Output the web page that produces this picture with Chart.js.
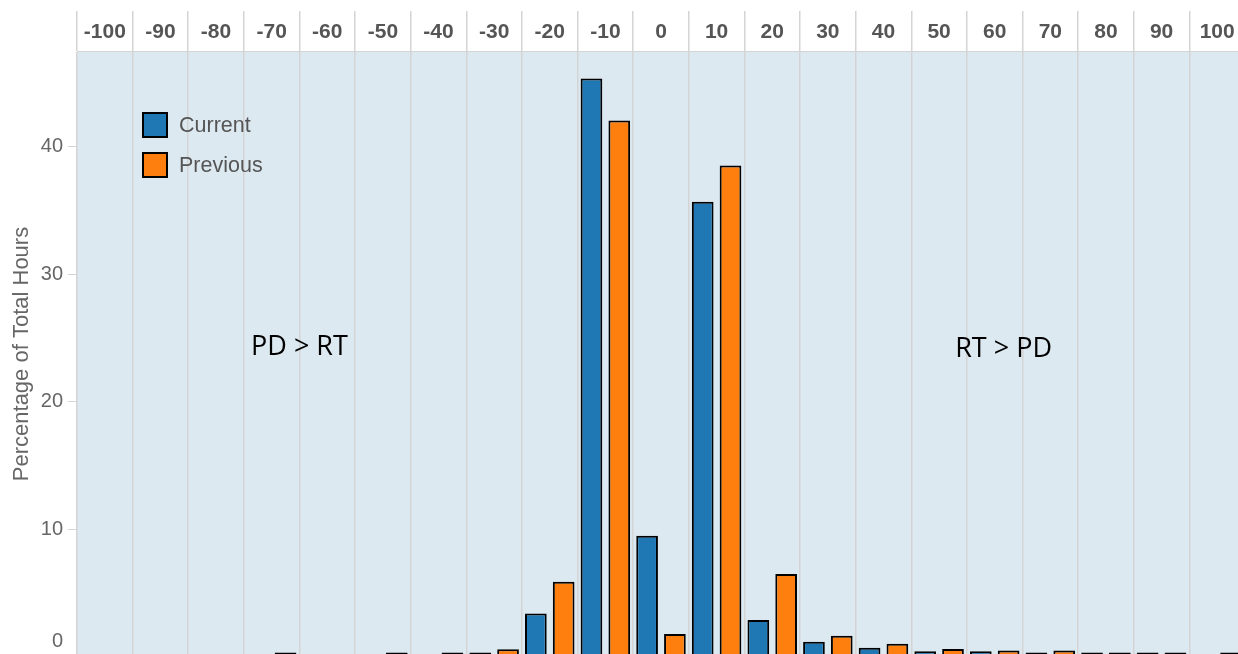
<!DOCTYPE html>
<html>
<head>
<meta charset="utf-8">
<script src="https://cdn.jsdelivr.net/npm/chart.js@4.4.1/dist/chart.umd.min.js"></script>
<style>
  html, body { margin: 0; padding: 0; background: #fff; overflow: hidden; }
  #wrap { position: relative; width: 1245px; height: 686px; }
</style>
</head>
<body>
<div id="wrap"><canvas id="chart"></canvas></div>
<script>
const bins = ["-100", "-90", "-80", "-70", "-60", "-50", "-40", "-30", "-20", "-10",
  "0", "10", "20", "30", "40", "50", "60", "70", "80", "90", "100"];
const current = [0, 0, 0, 0, 0, 0, 0, 0.35, 3.4, 45.35, 9.5, 35.68, 2.9, 1.2, 0.73, 0.45, 0.45, 0.35, 0.35, 0.35, 0];
const previous = [0, 0, 0, 0.35, 0, 0.35, 0.35, 0.6, 5.9, 42.05, 1.8, 38.53, 6.5, 1.67, 1.04, 0.62, 0.5, 0.5, 0.35, 0.35, 0.35];
const yMax = 47.5;

// side notes: [text, x position in bins, y value]
const notes = [
  ["PD > RT", 3.5, 24.3],
  ["RT > PD", 16.16, 24.1],
];

const font = "'Liberation Sans', Arial, sans-serif";

// light blue plot background
const plotBg = {
  id: "plotBg",
  beforeDraw(chart) {
    const { ctx, chartArea: a } = chart;
    ctx.save();
    ctx.fillStyle = "#dde9f0";
    ctx.fillRect(a.left, a.top, a.right - a.left, a.bottom - a.top);
    ctx.restore();
  },
};

// legend boxes inside the plot
const boxLegend = {
  id: "boxLegend",
  afterDatasetsDraw(chart) {
    const ctx = chart.ctx;
    ctx.save();
    chart.data.datasets.forEach((ds, i) => {
      const y = 113 + i * 40;
      ctx.fillStyle = ds.backgroundColor;
      ctx.fillRect(143, y, 24, 24);
      ctx.lineWidth = 2;
      ctx.strokeStyle = "#000";
      ctx.strokeRect(143, y, 24, 24);
      ctx.fillStyle = "#555";
      ctx.font = "21.5px " + font;
      ctx.textBaseline = "middle";
      ctx.fillText(ds.label, 179, y + 13);
    });
    ctx.restore();
  },
};

const sideNotes = {
  id: "sideNotes",
  afterDatasetsDraw(chart) {
    const { ctx, scales } = chart;
    ctx.save();
    ctx.fillStyle = "#000";
    ctx.font = "27px 'Open Sans', 'Noto Sans', sans-serif";
    ctx.textAlign = "center";
    ctx.textBaseline = "middle";
    notes.forEach(([t, xv, yv]) => {
      ctx.fillText(t, scales.x.getPixelForValue(xv), scales.y.getPixelForValue(yv));
    });
    ctx.restore();
  },
};

new Chart(document.getElementById("chart"), {
  type: "bar",
  plugins: [plotBg, boxLegend, sideNotes],
  data: {
    labels: bins,
    datasets: [
      { label: "Current", data: current, backgroundColor: "#1f77b4" },
      { label: "Previous", data: previous, backgroundColor: "#ff7f0e" },
    ],
  },
  options: {
    responsive: true,
    maintainAspectRatio: false,
    animation: false,
    layout: { padding: { top: 11, right: 0, bottom: 3, left: 0 } },
    datasets: {
      bar: {
        borderColor: "#000",
        borderWidth: 2,
        borderSkipped: false,
        categoryPercentage: 1.0,
        barPercentage: 0.78,
      },
    },
    plugins: {
      legend: { display: false },
      tooltip: { enabled: false },
    },
    scales: {
      x: {
        position: "top",
        afterFit: (s) => { s.height = 40; },
        grid: {
          offset: true,
          color: "#d4d4d4",
          lineWidth: 1.5,
          drawTicks: true,
          tickLength: 40,
          tickColor: "#d4d4d4",
          tickWidth: 1.5,
        },
        border: { display: true, color: "#d4d4d4", width: 1 },
        ticks: {
          autoSkip: false,
          maxRotation: 0,
          padding: -34,
          color: "#555",
          font: { family: font, size: 21, weight: "bold" },
        },
      },
      y: {
        min: 0,
        max: yMax,
        afterFit: (s) => { s.width = 77; },
        grid: {
          drawOnChartArea: false,
          drawTicks: true,
          tickLength: 9,
          color: "#d4d4d4",
        },
        border: { display: false },
        ticks: {
          stepSize: 10,
          includeBounds: false,
          padding: 5,
          color: "#666",
          font: { family: font, size: 20, lineHeight: 0.8 },
          callback: (v) => (v === 0 ? ["0", "", ""] : v),
        },
        title: {
          display: true,
          text: "Percentage of Total Hours",
          color: "#666",
          padding: { top: 9, bottom: 0 },
          font: { family: font, size: 22 },
        },
      },
    },
  },
});
</script>
</body>
</html>
